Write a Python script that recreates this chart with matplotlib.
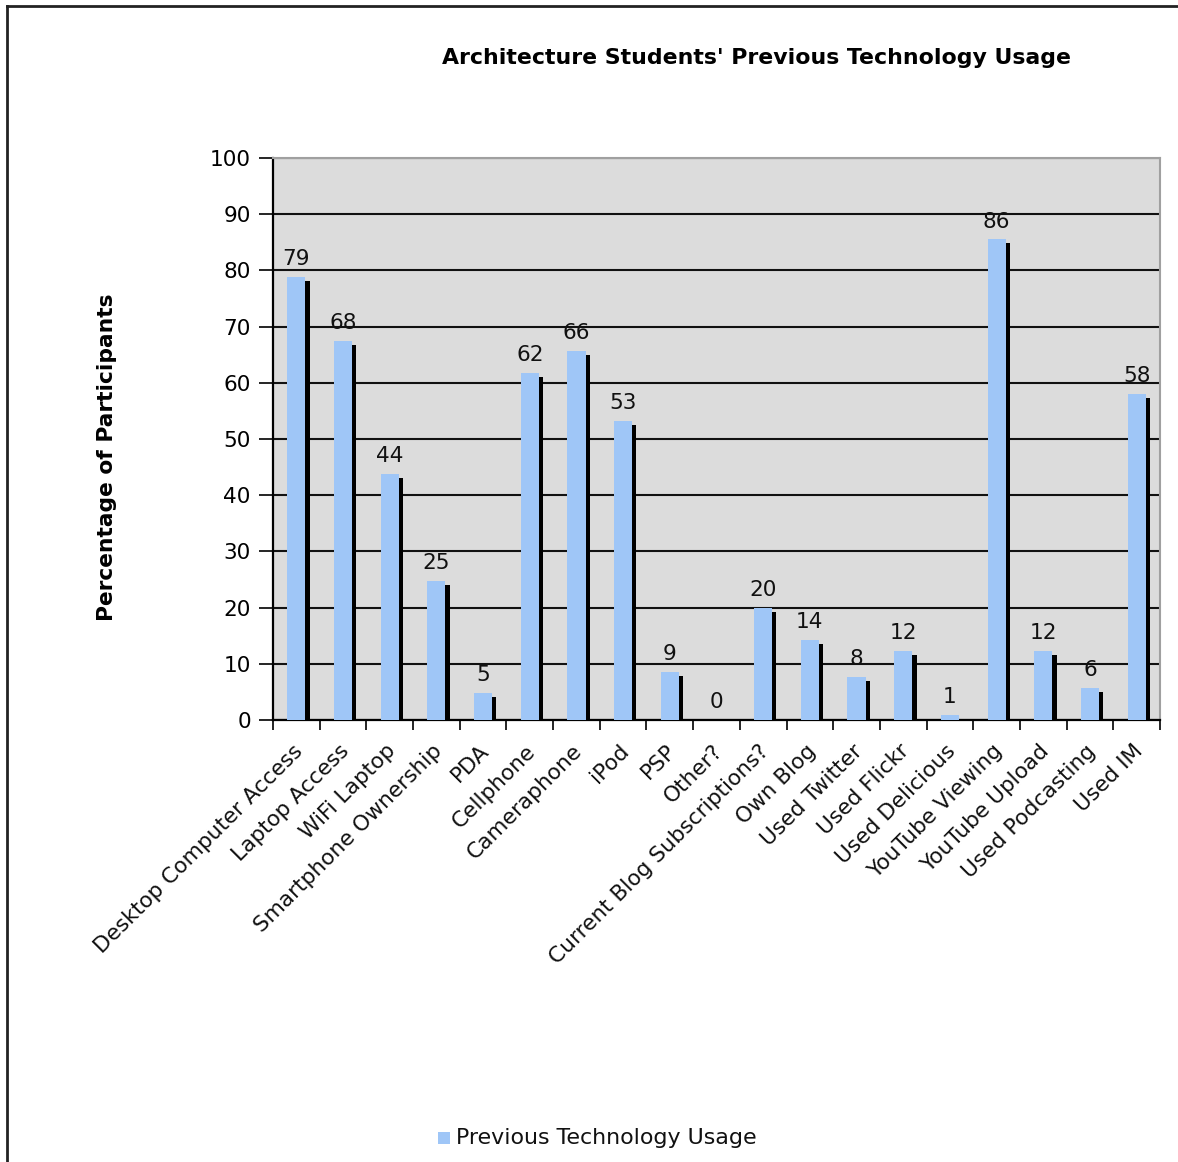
import matplotlib
matplotlib.use("Agg")
import matplotlib.pyplot as plt
from matplotlib.lines import Line2D
from matplotlib.patches import Rectangle
import numpy as np

categories = ["Desktop Computer Access", "Laptop Access", "WiFi Laptop",
              "Smartphone Ownership", "PDA", "Cellphone", "Cameraphone", "iPod",
              "PSP", "Other?", "Current Blog Subscriptions?", "Own Blog",
              "Used Twitter", "Used Flickr", "Used Delicious", "YouTube Viewing",
              "YouTube Upload", "Used Podcasting", "Used IM"]
values = [78.8, 67.5, 43.8, 24.7, 4.8, 61.8, 65.7, 53.2, 8.6, 0.0, 19.9, 14.2,
          7.7, 12.3, 0.9, 85.5, 12.3, 5.7, 58.0]
yticks = [0, 10, 20, 30, 40, 50, 60, 70, 80, 90, 100]
series_name = "Previous Technology Usage"
title = "Architecture Students' Previous Technology Usage"
ylabel = "Percentage of Participants"

blue = "#9fc6f7"
fam = ["DejaVu Sans"]
fs = 15.6

fig = plt.figure(figsize=(11.78, 11.62), dpi=100)
ax = fig.add_axes([273/1178, 1 - 720/1162, (1160-273)/1178, (720-158)/1162])
ax.set_facecolor("#dcdcdc")

x = np.arange(len(categories))
bw = 0.39
# shadow
ax.bar(x + 0.09, [max(v - 0.7, 0) for v in values], width=bw, color="black",
       zorder=2, linewidth=0)
bars = ax.bar(x, values, width=bw, color=blue, zorder=3, linewidth=0)
for xi, v in zip(x, values):
    ax.text(xi, v + 1.4, "%d" % int(round(v)), ha="center", va="bottom",
            fontsize=fs, family=fam, color="#111111", zorder=4)

ax.set_xlim(-0.5, len(categories) - 0.5)
ax.set_ylim(0, 100)
ax.set_yticks(yticks)
ax.set_yticklabels([str(t) for t in yticks], fontsize=fs, family=fam)
ax.yaxis.grid(True, color="#111111", linewidth=1.5, zorder=1)
ax.set_axisbelow(True)

ax.set_xticks(np.arange(-0.5, len(categories), 1.0), minor=False)
ax.set_xticklabels([])
ax.tick_params(axis="x", length=7, width=1.2, direction="out", color="black")
ax.tick_params(axis="y", length=10, width=1.2, direction="out", color="black", pad=6)
for xi, c in zip(x, categories):
    ax.annotate(c, xy=(xi, 0), xycoords="data", xytext=(-3, -15),
                textcoords="offset points", rotation=45, ha="right", va="top",
                rotation_mode="anchor", fontsize=fs, family=fam, color="#111111")

ax.spines["left"].set_color("black")
ax.spines["left"].set_linewidth(1.6)
ax.spines["bottom"].set_color("black")
ax.spines["bottom"].set_linewidth(1.6)
ax.spines["top"].set_color("#a0a0a0")
ax.spines["right"].set_color("#a0a0a0")
ax.spines["top"].set_linewidth(1.5)
ax.spines["right"].set_linewidth(1.5)

fig.text(757/1178, 1 - 58/1162, title, ha="center", va="center",
         fontsize=15.8, fontweight="bold", family=fam)
fig.text(107/1178, 1 - 457/1162, ylabel, ha="center", va="center",
         rotation=90, fontsize=15.7, fontweight="bold", family=fam)

# legend
fig.patches.append(Rectangle((438/1178, 1 - 1144/1162), 12/1178, 12/1162,
                             transform=fig.transFigure, facecolor=blue,
                             edgecolor="none"))
fig.text(456/1178, 1 - 1138/1162, series_name, ha="left", va="center",
         fontsize=15.9, family=fam, color="#111111")

# frame lines (top and left)
fig.add_artist(Line2D([7/1178, 1], [1 - 6/1162, 1 - 6/1162],
                      transform=fig.transFigure, color="#222222", linewidth=2))
fig.add_artist(Line2D([7/1178, 7/1178], [0, 1 - 6/1162],
                      transform=fig.transFigure, color="#222222", linewidth=2))

fig.savefig("out.png", dpi=100, facecolor="white")
